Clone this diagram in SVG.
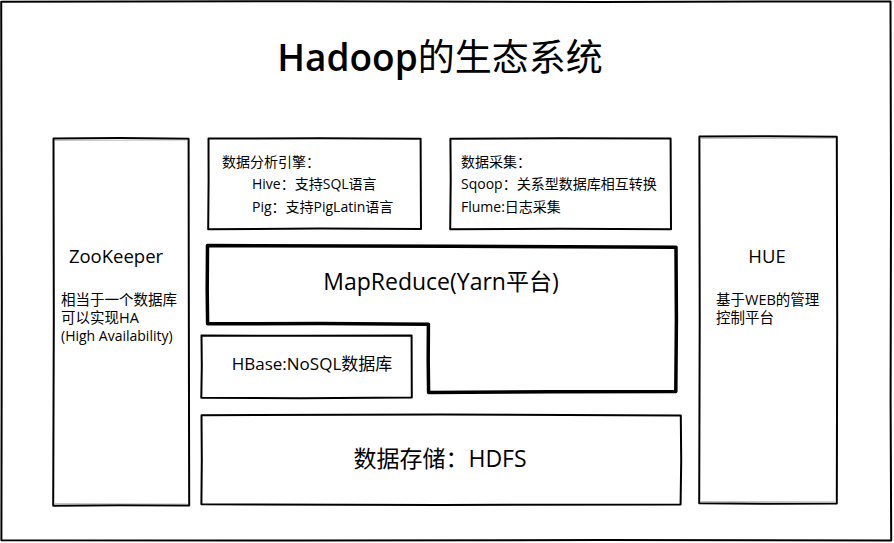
<svg xmlns="http://www.w3.org/2000/svg" width="894" height="543" viewBox="0 0 894 543">
<style>
.box{fill:#fff;stroke:#000;stroke-width:2;stroke-linejoin:round;stroke-linecap:round}
.thick{fill:#fff;stroke:#000;stroke-width:3.5;stroke-linejoin:round;stroke-linecap:round}
.ghost{fill:none;stroke:#999;stroke-width:1;opacity:0.6}
text{font-family:"Open Sans","Noto Sans CJK SC","Noto Sans",sans-serif;fill:#000}
.s14{font-size:14px}
</style>
<rect width="894" height="543" fill="#fff"/>
<g id="frame">
<path class="box" d="M1.5 1.8 L300 1.2 L600 1.9 L890.5 1.4 L891 200 L890.6 400 L891.2 540.5 L600 540 L300 540.6 L1.4 540.2 L1.8 300 L1.2 1.8 Z"/>
</g>
<g id="title">
<text x="440" y="71" font-size="37" text-anchor="middle"><tspan font-weight="600">Hadoop</tspan>的生态系统</text>
</g>
<g id="zookeeper">
<path class="box" d="M53.5 138.5 L120 138 L188.6 138.8 L188.8 300 L189.2 505.5 L120 505.2 L53.2 505.8 L53.8 320 L53.5 138.5 Z"/>
<path class="ghost" d="M55 140.5 L187 140 M55 503.5 L187 504"/>
<text x="116" y="263" font-size="18.5" text-anchor="middle">ZooKeeper</text>
<text x="61" y="305" font-size="14.5">相当于一个数据库</text>
<text x="61" y="323" font-size="14.5">可以实现HA</text>
<text x="61" y="341" font-size="14">(High Availability)</text>
</g>
<g id="analysis">
<path class="box" d="M208.5 138.6 L320 138.2 L420.6 138.8 L421 229 L320 228.6 L208.2 229.3 L208.6 180 Z"/>
<text class="s14" x="222" y="167">数据分析引擎：</text>
<text class="s14" x="252" y="189">Hive：支持SQL语言</text>
<text class="s14" x="252" y="212">Pig：支持PigLatin语言</text>
</g>
<g id="collection">
<path class="box" d="M450.4 138.8 L560 138.3 L670.6 138.6 L671 229.2 L560 228.7 L450.2 229.3 L450.7 180 Z"/>
<text class="s14" x="461" y="167">数据采集：</text>
<text class="s14" x="461" y="189">Sqoop：关系型数据库相互转换</text>
<text class="s14" x="461" y="212">Flume:日志采集</text>
</g>
<g id="mapreduce">
<path class="thick" d="M207.5 245.5 L450 246.3 L676 247.2 L676.4 320 L675.8 391.5 L550 391.8 L428.6 392.4 L428.2 360 L428.4 324.2 L320 323.6 L207.6 323.8 L207.2 290 Z"/>
<text x="441" y="290" font-size="23" text-anchor="middle">MapReduce(Yarn平台)</text>
</g>
<g id="hbase">
<path class="box" d="M201.5 335.5 L300 335.8 L411.6 335.4 L411.8 397.6 L300 398.2 L201.3 397.8 L201.8 366 Z"/>
<text x="312" y="370" font-size="17" text-anchor="middle">HBase:NoSQL数据库</text>
</g>
<g id="hdfs">
<path class="box" d="M201.5 415.2 L440 414.6 L680.8 415.4 L681.2 460 L680.6 504.4 L440 504.9 L201.4 504.3 L201.8 460 Z"/>
<text x="440" y="467" font-size="23" text-anchor="middle">数据存储：HDFS</text>
</g>
<g id="hue">
<path class="box" d="M699.4 136.5 L768 136.2 L836.8 136.8 L837.2 320 L836.8 503.4 L768 503.8 L699.2 503.2 L699.7 320 Z"/>
<path class="ghost" d="M701 138.5 L835 138.3 M701 501.5 L835 501.8"/>
<text x="767" y="263" font-size="18.5" text-anchor="middle">HUE</text>
<text x="716" y="305" font-size="14.5">基于WEB的管理</text>
<text x="716" y="323" font-size="14.5">控制平台</text>
</g>
<g id="connectors"></g>
</svg>
